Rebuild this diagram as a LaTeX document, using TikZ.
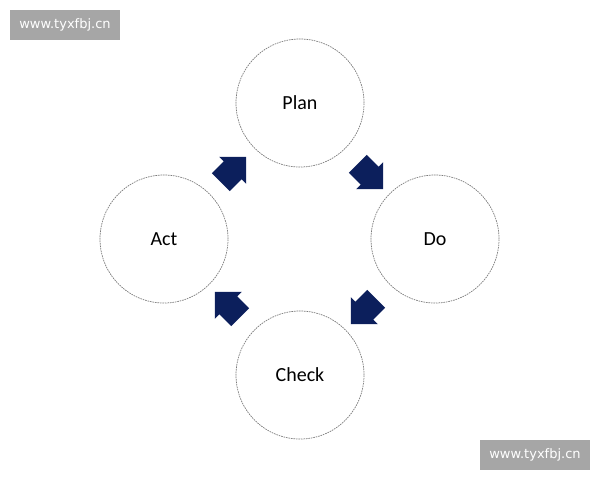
\documentclass[tikz,border=0pt]{standalone}
\usepackage{fontspec}
\setmainfont{Carlito}
\newfontfamily\markfont{DejaVu Sans}
\usetikzlibrary{shapes.arrows}
\definecolor{navy}{HTML}{0C1F5C}
\definecolor{ringgray}{HTML}{7A7A7A}
\definecolor{markgray}{HTML}{A6A6A6}
\tikzset{
  phase/.style={draw=ringgray, circle, minimum size=128pt, inner sep=0pt,
    line width=0.7pt, dash pattern=on 1.6pt off 0.9pt, font=\fontsize{20}{24}\selectfont},
  turn/.style={single arrow, fill=navy, draw=none, inner xsep=0pt, inner ysep=12.5pt,
    minimum height=36pt, single arrow head extend=6.5pt},
  stamp/.style={fill=markgray, text=white, minimum width=110pt, minimum height=30pt,
    inner sep=0pt, font=\markfont\fontsize{13}{16}\selectfont}
}
\begin{document}
\begin{tikzpicture}[x=1pt, y=-1pt]
        \useasboundingbox (0, 0) rectangle (600, 480);
        \node[phase] (plan) at (300, 103) {Plan};
        \node[phase] (do) at (435, 239) {Do};
        \node[phase] (check) at (300, 375) {Check};
        \node[phase] (act) at (164, 239) {Act};
        \node[turn, rotate=-45] (a1) at (366, 172) {};
        \node[turn, rotate=-135] (a2) at (368, 307) {};
        \node[turn, rotate=135] (a3) at (232, 309) {};
        \node[turn, rotate=45] (a4) at (229, 174) {};
        \node[stamp] (mark1) at (65, 25) {www.tyxfbj.cn};
        \node[stamp] (mark2) at (535, 455) {www.tyxfbj.cn};
    \end{tikzpicture}
\end{document}
